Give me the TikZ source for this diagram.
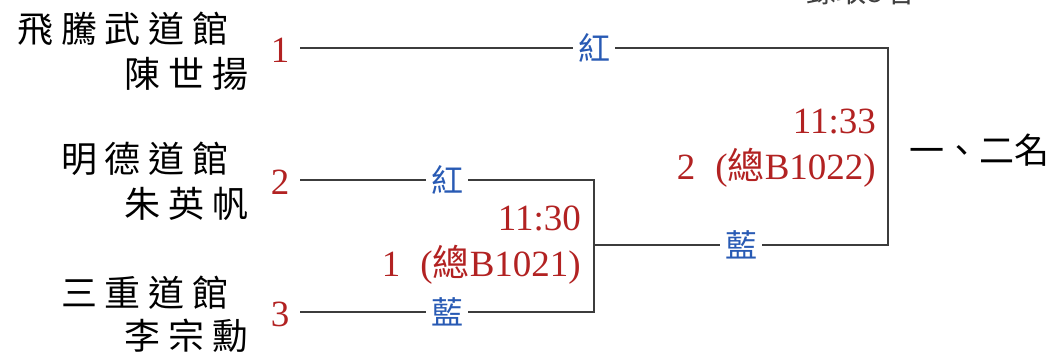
\documentclass[tikz,border=0pt]{standalone}
\usepackage{fontspec}
\setmainfont{Liberation Serif}
\newfontfamily\cjk{Noto Sans CJK TC}
\newfontfamily\cjkwide[LetterSpace=22]{Noto Sans CJK TC}
\usepackage{xcolor}
\usetikzlibrary{positioning}
\definecolor{seedred}{RGB}{178,34,34}
\definecolor{cornerblue}{RGB}{40,90,180}
\definecolor{linegray}{RGB}{60,60,60}

\begin{document}
\begin{tikzpicture}[x=1pt, y=-1pt,
            club/.style={font=\fontsize{36}{38}\selectfont\cjkwide, inner sep=0pt, anchor=east},
            seed/.style={font=\fontsize{37}{40}\selectfont, text=seedred, inner sep=0pt},
            corner/.style={font=\fontsize{32}{34}\selectfont\cjk, text=cornerblue, fill=white, inner xsep=5pt, inner ysep=0pt},
            info/.style={font=\fontsize{37}{46}\selectfont, text=seedred, align=right, anchor=east, inner sep=0pt},
            bline/.style={linegray, line width=1.3pt},
        ]
        \clip (0,0) rectangle (1052,358);
        % header, cut off at the top edge
        \node[font=\fontsize{30}{32}\selectfont\cjk, text=black!75] (head) at (860,-9) {錄取8名};
        % players
        \node[club] (club1) at (229,29) {飛騰武道館};
        \node[club] (name1) at (249,74) {陳世揚};
        \node[club] (club2) at (229,159) {明德道館};
        \node[club] (name2) at (249,204) {朱英帆};
        \node[club] (club3) at (229,293) {三重道館};
        \node[club] (name3) at (249,336) {李宗勳};
        \node[seed] (n1) at (280,50) {1};
        \node[seed] (n2) at (280,182) {2};
        \node[seed] (n3) at (280,314) {3};
        % bracket points
        \coordinate (e1) at (300,48);
        \coordinate (e2) at (300,180);
        \coordinate (e3) at (300,312);
        \coordinate (k2) at (594,180);
        \coordinate (k3) at (594,312);
        \coordinate (m1) at (594,245);
        \coordinate (t1) at (888,48);
        \coordinate (m2) at (888,245);
        \draw[bline] (e2) -- node[corner] (r2) {紅} (k2) -- (k3) -- node[corner] (b3) {藍} (e3);
        \draw[bline] (e1) -- node[corner] (r1) {紅} (t1) -- (m2) -- node[corner] (bm) {藍} (m1);
        % match info
        \node[info] (game1) at (581,245) {11:30\\1\hspace{20pt}(\cjk 總\normalfont B1021)};
        \node[info] (game2) at (876,148) {11:33\\2\hspace{20pt}(\cjk 總\normalfont B1022)};
        \node[font=\fontsize{35}{37}\selectfont\cjk, anchor=west, inner sep=0pt] (place) at (909,150) {一、二名};
    \end{tikzpicture}
\end{document}
